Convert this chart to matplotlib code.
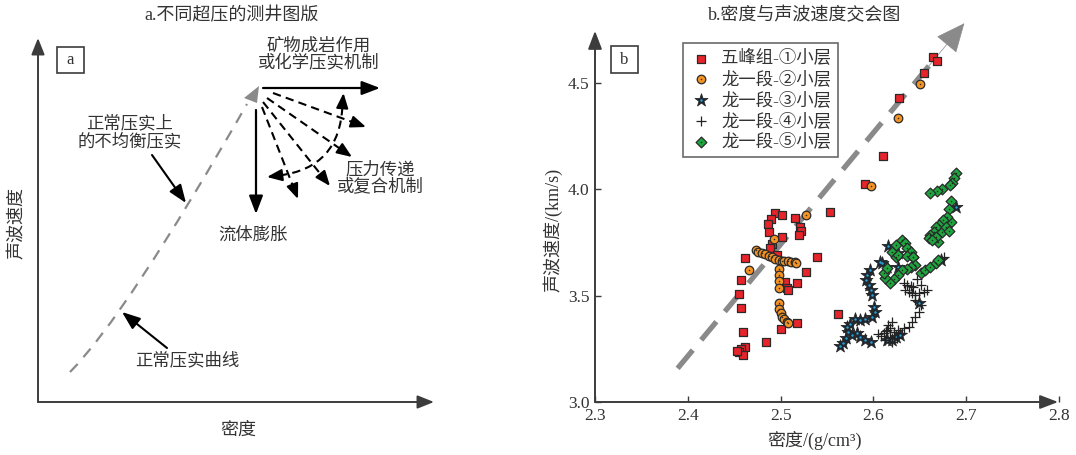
import numpy as np
import matplotlib
matplotlib.use('Agg')
import matplotlib.pyplot as plt
from matplotlib.path import Path
from matplotlib.patches import PathPatch, Rectangle, Polygon
from matplotlib.legend_handler import HandlerTuple
from matplotlib.ticker import FormatStrFormatter

plt.rcParams['font.family'] = ['Liberation Serif', 'Noto Sans CJK SC']
plt.rcParams['axes.unicode_minus'] = False

TXT = '#333333'
AXC = '#3c3c3c'

# ---- 交会图数据: 密度 (g/cm3) / 声波速度 (km/s) ----
wf1_rho = [2.664, 2.669, 2.655, 2.628, 2.610, 2.591, 2.553, 2.494, 2.502, 2.490,
           2.486, 2.487, 2.516, 2.521, 2.522, 2.520, 2.502, 2.491, 2.489, 2.462,
           2.539, 2.496, 2.527, 2.457, 2.505, 2.507, 2.508, 2.518, 2.455, 2.457,
           2.562, 2.518, 2.500, 2.459, 2.484, 2.462, 2.457, 2.455, 2.460, 2.453]
wf1_vp = [4.623, 4.602, 4.545, 4.430, 4.157, 4.023, 3.894, 3.890, 3.880, 3.860,
          3.835, 3.800, 3.863, 3.824, 3.805, 3.785, 3.774, 3.741, 3.722, 3.675,
          3.683, 3.690, 3.612, 3.572, 3.565, 3.534, 3.526, 3.561, 3.506, 3.443,
          3.414, 3.373, 3.342, 3.328, 3.283, 3.260, 3.248, 3.234, 3.221, 3.240]

l2_rho = [2.650, 2.627, 2.597, 2.527, 2.493, 2.473, 2.476, 2.480, 2.483, 2.487,
          2.491, 2.494, 2.498, 2.501, 2.504, 2.508, 2.511, 2.515, 2.517, 2.466,
          2.498, 2.498, 2.498, 2.498, 2.498, 2.4985, 2.500, 2.501, 2.504, 2.507,
          2.5085]
l2_vp = [4.493, 4.336, 4.015, 3.879, 3.765, 3.714, 3.706, 3.702, 3.694, 3.686,
         3.680, 3.672, 3.667, 3.662, 3.662, 3.662, 3.659, 3.656, 3.654, 3.620,
         3.625, 3.597, 3.567, 3.535, 3.464, 3.437, 3.417, 3.401, 3.389, 3.377,
         3.370]

l3_rho = [2.616, 2.627, 2.609, 2.615, 2.596, 2.593, 2.592, 2.595, 2.597, 2.598,
          2.601, 2.602, 2.598, 2.591, 2.586, 2.580, 2.575, 2.572, 2.573, 2.577,
          2.582, 2.586, 2.591, 2.597, 2.570, 2.567, 2.564, 2.615, 2.624, 2.629,
          2.620, 2.649, 2.673, 2.689, 2.607, 2.626]
l3_vp = [3.733, 3.699, 3.655, 3.636, 3.620, 3.597, 3.573, 3.550, 3.526, 3.503,
         3.445, 3.424, 3.401, 3.389, 3.385, 3.390, 3.367, 3.351, 3.330, 3.315,
         3.323, 3.307, 3.291, 3.283, 3.299, 3.276, 3.263, 3.291, 3.307, 3.315,
         3.291, 3.464, 3.667, 3.917, 3.659, 3.636]

l4_rho = [2.633, 2.636, 2.640, 2.643, 2.634, 2.638, 2.642, 2.645, 2.649, 2.654,
          2.658, 2.647, 2.651, 2.645, 2.651, 2.649, 2.645, 2.642, 2.638, 2.633,
          2.627, 2.622, 2.618, 2.615, 2.611, 2.618, 2.625, 2.631, 2.616, 2.620,
          2.676, 2.608, 2.612, 2.620, 2.605, 2.614]
l4_vp = [3.558, 3.550, 3.545, 3.539, 3.526, 3.518, 3.511, 3.503, 3.514, 3.518,
         3.526, 3.577, 3.550, 3.479, 3.456, 3.424, 3.401, 3.377, 3.354, 3.346,
         3.338, 3.330, 3.346, 3.338, 3.323, 3.307, 3.299, 3.323, 3.362, 3.377,
         3.683, 3.310, 3.290, 3.280, 3.320, 3.335]

l5_rho = [2.689, 2.687, 2.685, 2.683, 2.674, 2.668, 2.661, 2.684, 2.682, 2.684,
          2.679, 2.675, 2.671, 2.667, 2.665, 2.661, 2.660, 2.674, 2.678, 2.681,
          2.670, 2.667, 2.663, 2.624, 2.631, 2.634, 2.636, 2.640, 2.643, 2.620,
          2.624, 2.627, 2.636, 2.643, 2.645, 2.640, 2.636, 2.631, 2.626, 2.622,
          2.618, 2.613, 2.611, 2.615, 2.651, 2.656, 2.661, 2.667, 2.670]
l5_vp = [4.075, 4.051, 4.028, 4.020, 3.999, 3.992, 3.984, 3.946, 3.905, 3.847,
         3.871, 3.855, 3.832, 3.824, 3.800, 3.785, 3.769, 3.800, 3.824, 3.805,
         3.753, 3.777, 3.761, 3.738, 3.761, 3.746, 3.722, 3.706, 3.683, 3.706,
         3.683, 3.691, 3.686, 3.680, 3.644, 3.636, 3.624, 3.620, 3.597, 3.577,
         3.561, 3.582, 3.605, 3.628, 3.605, 3.620, 3.636, 3.652, 3.667]

labels = ['五峰组-①小层', '龙一段-②小层', '龙一段-③小层', '龙一段-④小层', '龙一段-⑤小层']
trend_start = (2.389, 3.158)
trend_tip = (2.698, 4.780)

xticks = [2.3, 2.4, 2.5, 2.6, 2.7, 2.8]
yticks = [3.0, 3.5, 4.0, 4.5]


def arrow(ax, p0, p1, lw=1.5, color='k', dashed=False, hl=0.9, hw=0.36, zorder=3):
    """直线箭头; 虚线时箭头头部保持实心"""
    p0 = np.asarray(p0, float)
    p1 = np.asarray(p1, float)
    u = (p1 - p0) / np.hypot(*(p1 - p0))
    style = f'-|>,head_length={hl},head_width={hw}'
    if dashed:
        back = p1 - u * 12
        ax.plot([p0[0], back[0]], [p0[1], back[1]], color=color, lw=lw,
                ls=(0, (4, 2.5)), solid_capstyle='butt', zorder=zorder)
        ax.annotate('', xy=p1, xytext=p1 - u * 13,
                    arrowprops=dict(arrowstyle=style, color=color, lw=lw,
                                    shrinkA=0, shrinkB=0), zorder=zorder)
    else:
        ax.annotate('', xy=p1, xytext=p0,
                    arrowprops=dict(arrowstyle=style, color=color, lw=lw,
                                    shrinkA=0, shrinkB=0), zorder=zorder)


fig = plt.figure(figsize=(10.76, 4.55), dpi=100)

# ---------------- a: 示意图 (像素坐标) ----------------
axa = fig.add_axes([0, 0, 0.5, 1])
axa.set_xlim(0, 538)
axa.set_ylim(455, 0)
axa.axis('off')

arrow(axa, (38, 402), (38, 38), lw=1.4, color=AXC, hl=1.0, hw=0.4)
arrow(axa, (38, 402), (434, 402), lw=1.4, color=AXC, hl=1.0, hw=0.4)
axa.add_patch(Rectangle((56.5, 46.5), 27, 26, fill=False, ec=AXC, lw=1.2))
axa.text(70, 60, 'a', ha='center', va='center', fontsize=12, color=TXT)

# 正常压实曲线
curve = Path([(70, 372), (125, 317), (247, 104)], [Path.MOVETO, Path.CURVE3, Path.CURVE3])
axa.add_patch(PathPatch(curve, fill=False, ec='#8a8a8a', lw=1.6, ls=(0, (5, 4))))
axa.add_patch(Polygon([(259, 86), (244, 98), (257, 103)], closed=True, fc='#8a8a8a', ec='none'))

# 机制箭头
arrow(axa, (263, 88), (380, 88), lw=1.6, hl=1.1, hw=0.42)
arrow(axa, (256, 110), (256, 214), lw=1.6, hl=1.1, hw=0.42)
arrow(axa, (273, 93), (366, 127), lw=1.5, dashed=True)
arrow(axa, (267, 98), (352, 157), lw=1.5, dashed=True)
arrow(axa, (263, 102), (330, 186), lw=1.5, dashed=True)
arrow(axa, (262, 107), (298, 199), lw=1.5, dashed=True)

# 双向弧形虚线箭头
p_a, p_c, p_b = np.array([279, 175.5]), np.array([340, 168]), np.array([342.5, 105])
arc = Path([p_a, p_c, p_b], [Path.MOVETO, Path.CURVE3, Path.CURVE3])
axa.add_patch(PathPatch(arc, fill=False, ec='k', lw=1.5, ls=(0, (4, 2.5))))
for end, tip in ((p_a, (267, 177)), (p_b, (343.5, 93))):
    tip = np.asarray(tip, float)
    axa.annotate('', xy=tip, xytext=end,
                 arrowprops=dict(arrowstyle='-|>,head_length=0.9,head_width=0.36',
                                 color='k', lw=1.5, shrinkA=0, shrinkB=0))

arrow(axa, (152, 155), (186, 203), lw=1.5, hl=1.1, hw=0.42)
arrow(axa, (167, 348), (122, 312), lw=1.5, hl=1.1, hw=0.42)

kw = dict(ha='center', va='center', fontsize=12.5, color=TXT)
axa.text(319, 47, '矿物成岩作用', **kw)
axa.text(319, 64, '或化学压实机制', **kw)
axa.text(130, 124, '正常压实上', **kw)
axa.text(130, 142, '的不均衡压实', **kw)
axa.text(380, 170, '压力传递', **kw)
axa.text(380, 187, '或复合机制', **kw)
axa.text(253, 235, '流体膨胀', **kw)
axa.text(187, 361, '正常压实曲线', **kw)
axa.text(17, 223, '声波速度', rotation=90, ha='center', va='center', fontsize=13, color=TXT)
axa.text(238, 430, '密度', ha='center', va='center', fontsize=13, color=TXT)

fig.text(232 / 1076, 1 - 16 / 455, 'a.不同超压的测井图版', ha='center', va='center',
         fontsize=13, color=TXT)

# ---------------- b: 交会图 ----------------
ax = fig.add_axes([595 / 1076, 53 / 455, 464 / 1076, 383 / 455])
ax.set_xlim(2.3, 2.8)
ax.set_ylim(3.0, 4.8)
for s in ax.spines.values():
    s.set_visible(False)
ax.set_xticks(xticks)
ax.set_yticks(yticks)
ax.xaxis.set_major_formatter(FormatStrFormatter('%.1f'))
ax.yaxis.set_major_formatter(FormatStrFormatter('%.1f'))
ax.tick_params(direction='in', length=4, width=1, color=AXC, labelsize=12.5,
               labelcolor=TXT, pad=4)

ax.annotate('', xy=(0.998, 0), xytext=(0, 0), xycoords='axes fraction',
            arrowprops=dict(arrowstyle='-|>,head_length=1.1,head_width=0.42',
                            color=AXC, lw=1.4, shrinkA=0, shrinkB=0))
ax.annotate('', xy=(0, 0.969), xytext=(0, 0), xycoords='axes fraction',
            arrowprops=dict(arrowstyle='-|>,head_length=1.1,head_width=0.42',
                            color=AXC, lw=1.4, shrinkA=0, shrinkB=0))

# 趋势虚线箭头
ts = np.array(trend_start)
tt = np.array(trend_tip)
back = ts + (tt - ts) * 0.9
ax.plot([ts[0], back[0]], [ts[1], back[1]], color='#8a8a8a', lw=3.8,
        ls=(0, (4.5, 2.5)), solid_capstyle='butt', zorder=1)
ax.annotate('', xy=tt, xytext=ts + (tt - ts) * 0.86,
            arrowprops=dict(arrowstyle='-|>,head_length=1.9,head_width=0.85',
                            color='#8a8a8a', lw=0.5, shrinkA=0, shrinkB=0),
            zorder=1)

ec = '#2a2a2a'
h1 = ax.scatter(wf1_rho, wf1_vp, marker='s', s=38, c='#e8242b', edgecolors=ec,
                linewidths=0.9, zorder=3)
h2 = ax.scatter(l2_rho, l2_vp, marker='o', s=38, c='#f39325', edgecolors=ec,
                linewidths=0.9, zorder=4)
h2d = ax.scatter(l2_rho, l2_vp, marker='o', s=1.2, c='#3a2a10', linewidths=0, zorder=4)
h3 = ax.scatter(l3_rho, l3_vp, marker='*', s=95, c='#1b2733', edgecolors=ec,
                linewidths=0.6, zorder=5)
h3d = ax.scatter(l3_rho, l3_vp, marker='o', s=3, c='#2aa5dc', linewidths=0, zorder=5)
h4 = ax.scatter(l4_rho, l4_vp, marker='+', s=60, c='#222222', linewidths=0.9, zorder=6)
h5 = ax.scatter(l5_rho, l5_vp, marker='D', s=30, c='#1fa540', edgecolors=ec,
                linewidths=0.9, zorder=7)
h5d = ax.scatter(l5_rho, l5_vp, marker='o', s=1.2, c='#103010', linewidths=0, zorder=7)

leg = ax.legend([h1, (h2, h2d), (h3, h3d), h4, (h5, h5d)], labels,
                handler_map={tuple: HandlerTuple(ndivide=1, pad=0)},
                loc='upper left', bbox_to_anchor=(0.19, 0.937), fontsize=12.5,
                frameon=True, fancybox=False, borderpad=0.4, labelspacing=0.22,
                handlelength=1.2, handletextpad=0.6, borderaxespad=0,
                scatterpoints=1)
leg.get_frame().set_edgecolor('#444444')
leg.get_frame().set_linewidth(1.2)
for t in leg.get_texts():
    t.set_color(TXT)

fig.add_artist(Rectangle((610.5 / 1076, 1 - 72.5 / 455), 27 / 1076, 26 / 455,
                         transform=fig.transFigure, fill=False, ec=AXC, lw=1.2))
fig.text(624 / 1076, 1 - 60 / 455, 'b', ha='center', va='center', fontsize=12, color=TXT)

ax.set_ylabel('声波速度/(km/s)', fontsize=13, color=TXT)
ax.yaxis.label.set_va('center')
ax.yaxis.set_label_coords((553 - 595) / 464, (402 - 230) / 383)
ax.set_xlabel('密度/(g/cm³)', fontsize=13, color=TXT)
ax.xaxis.label.set_va('center')
ax.xaxis.set_label_coords((815 - 595) / 464, (402 - 440) / 383)

fig.text(805 / 1076, 1 - 16 / 455, 'b.密度与声波速度交会图', ha='center', va='center',
         fontsize=13, color=TXT)

fig.savefig('out.png', dpi=100, facecolor='white')
